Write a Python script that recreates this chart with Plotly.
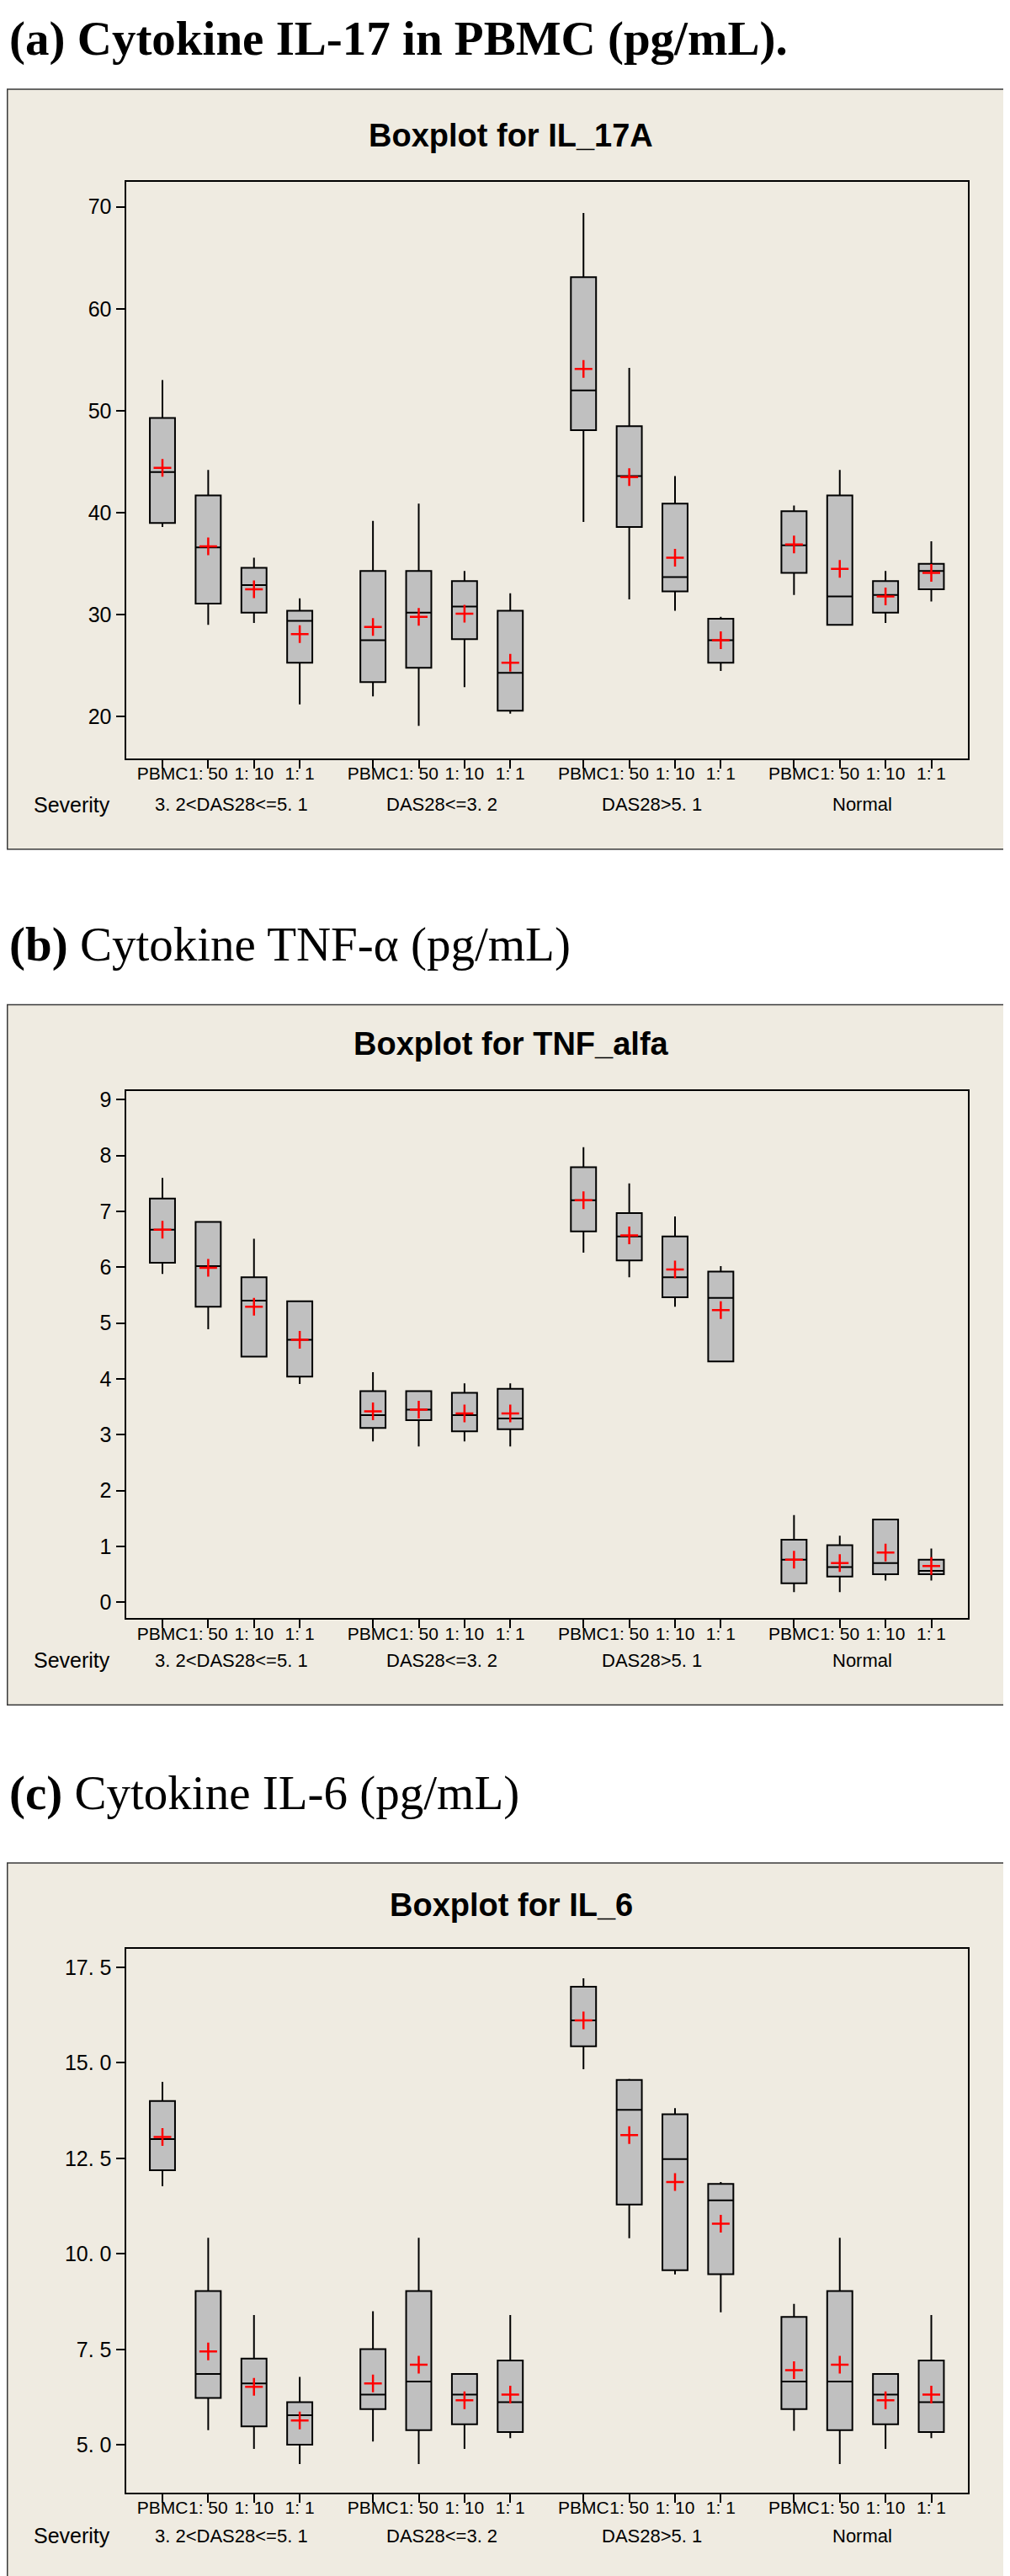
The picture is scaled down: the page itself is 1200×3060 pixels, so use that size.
import plotly.graph_objects as go

W, H = 1200, 3060

# ---------------- data ----------------
severity_groups = ["3. 2&lt;DAS28&lt;=5. 1", "DAS28&lt;=3. 2", "DAS28&gt;5. 1", "Normal"]
dilutions = ["PBMC", "1: 50", "1: 10", "1: 1"]

# (a) IL_17A
il17_low = [38.6, 29.0, 29.2, 21.2, 22.0, 19.1, 22.9, 20.3, 39.1, 31.5, 30.4, 24.5, 31.95, 29.0, 29.2, 31.3]
il17_q1 = [39.0, 31.1, 30.2, 25.3, 23.4, 24.8, 27.6, 20.6, 48.1, 38.6, 32.3, 25.3, 34.1, 29.0, 30.2, 32.5]
il17_med = [44.0, 36.6, 32.9, 29.4, 27.5, 30.2, 30.8, 24.3, 52.0, 43.6, 33.7, 27.5, 36.8, 31.8, 31.95, 34.3]
il17_q3 = [49.3, 41.7, 34.6, 30.4, 34.3, 34.3, 33.3, 30.4, 63.1, 48.5, 40.9, 29.6, 40.15, 41.7, 33.3, 35.0]
il17_high = [53.0, 44.2, 35.6, 31.6, 39.2, 40.9, 34.3, 32.1, 69.4, 54.2, 43.6, 29.8, 40.7, 44.2, 34.3, 37.2]
il17_mean = [44.4, 36.7, 32.5, 28.1, 28.8, 29.8, 30.1, 25.3, 54.1, 43.5, 35.6, 27.5, 36.9, 34.5, 31.8, 34.1]

# (b) TNF_alfa
tnf_low = [5.88, 4.89, 4.40, 3.91, 2.88, 2.79, 2.88, 2.79, 6.26, 5.82, 5.29, 4.31, 0.18, 0.18, 0.39, 0.39]
tnf_q1 = [6.08, 5.29, 4.40, 4.04, 3.12, 3.26, 3.06, 3.10, 6.64, 6.12, 5.46, 4.31, 0.34, 0.46, 0.50, 0.50]
tnf_med = [6.67, 6.02, 5.40, 4.70, 3.35, 3.45, 3.35, 3.29, 7.20, 6.55, 5.82, 5.45, 0.76, 0.63, 0.70, 0.56]
tnf_q3 = [7.23, 6.81, 5.82, 5.39, 3.78, 3.78, 3.75, 3.82, 7.79, 6.97, 6.55, 5.92, 1.12, 1.02, 1.48, 0.76]
tnf_high = [7.60, 6.81, 6.51, 5.39, 4.12, 3.78, 3.92, 3.92, 8.15, 7.50, 6.91, 6.02, 1.56, 1.19, 1.48, 0.96]
tnf_mean = [6.67, 5.99, 5.29, 4.70, 3.42, 3.45, 3.38, 3.38, 7.20, 6.57, 5.96, 5.23, 0.76, 0.70, 0.89, 0.65]

# (c) IL_6
il6_low = [11.77, 5.39, 4.90, 4.50, 5.09, 4.50, 4.90, 5.18, 14.83, 10.41, 9.46, 8.47, 5.37, 4.50, 4.90, 5.18]
il6_q1 = [12.19, 6.23, 5.49, 5.01, 5.94, 5.39, 5.54, 5.34, 15.43, 11.29, 9.57, 9.47, 5.94, 5.39, 5.54, 5.34]
il6_med = [13.00, 6.86, 6.61, 5.78, 6.32, 6.66, 6.32, 6.12, 16.11, 13.77, 12.48, 11.40, 6.66, 6.66, 6.32, 6.12]
il6_q3 = [14.00, 9.03, 7.26, 6.12, 7.51, 9.03, 6.86, 7.21, 16.99, 14.55, 13.65, 11.83, 8.35, 9.03, 6.86, 7.21]
il6_high = [14.50, 10.42, 8.40, 6.78, 8.50, 10.42, 6.86, 8.40, 17.21, 14.58, 13.81, 11.88, 8.69, 10.42, 6.86, 8.40]
il6_mean = [13.06, 7.45, 6.52, 5.64, 6.61, 7.10, 6.17, 6.32, 16.11, 13.11, 11.88, 10.79, 6.96, 7.10, 6.17, 6.32]

il17_ticks = [20, 30, 40, 50, 60, 70]
il17_ticktext = ["20", "30", "40", "50", "60", "70"]
tnf_ticks = [0, 1, 2, 3, 4, 5, 6, 7, 8, 9]
tnf_ticktext = ["0", "1", "2", "3", "4", "5", "6", "7", "8", "9"]
il6_ticks = [5.0, 7.5, 10.0, 12.5, 15.0, 17.5]
il6_ticktext = ["5. 0", "7. 5", "10. 0", "12. 5", "15. 0", "17. 5"]

# ---------------- layout helpers ----------------
GAP = 1.6
positions = [g * (len(dilutions) - 1 + GAP) + i for g in range(len(severity_groups)) for i in range(len(dilutions))]
group_centers = [sum(positions[g * 4:(g + 1) * 4]) / 4 for g in range(4)]


def px(p):
    return p / W


def py(p):
    return 1 - p / H


SANS = "Liberation Sans, Arial, sans-serif"
SERIF = "Liberation Serif, Times New Roman, serif"

panels = [
    dict(head="<b>(a) Cytokine IL-17 in PBMC (pg/mL).</b>", head_y=34,
         box=(94, 998), plot=(204, 890), title="Boxplot for IL_17A", title_y=149, sev_y=945,
         yrange=[15.92, 72.47], tv=il17_ticks, tt=il17_ticktext,
         stats=(il17_low, il17_q1, il17_med, il17_q3, il17_high, il17_mean)),
    dict(head="<b>(b)</b> Cytokine TNF-α (pg/mL)", head_y=1111,
         box=(1183, 2016), plot=(1286, 1913), title="Boxplot for TNF_alfa", title_y=1230, sev_y=1963,
         yrange=[-0.29, 9.15], tv=tnf_ticks, tt=tnf_ticktext,
         stats=(tnf_low, tnf_q1, tnf_med, tnf_q3, tnf_high, tnf_mean)),
    dict(head="<b>(c)</b> Cytokine IL-6 (pg/mL)", head_y=2121,
         box=(2204, 3057), plot=(2306, 2953), title="Boxplot for IL_6", title_y=2254, sev_y=3004,
         yrange=[3.75, 17.98], tv=il6_ticks, tt=il6_ticktext,
         stats=(il6_low, il6_q1, il6_med, il6_q3, il6_high, il6_mean)),
]

fig = go.Figure()
layout = dict(width=W, height=H, margin=dict(l=0, r=0, t=0, b=0),
              paper_bgcolor="white", plot_bgcolor="white", showlegend=False,
              shapes=[], annotations=[])

for k, p in enumerate(panels):
    n = "" if k == 0 else str(k + 1)
    xa, ya = "x" + n, "y" + n
    lo, q1, med, q3, hi, mean = p["stats"]
    fig.add_trace(go.Box(
        x=positions, q1=q1, median=med, q3=q3, lowerfence=lo, upperfence=hi,
        orientation="v", width=0.55, whiskerwidth=0, boxpoints=False,
        fillcolor="#C0C0C0", line=dict(color="black", width=2),
        xaxis=xa, yaxis=ya, hoverinfo="skip"))
    fig.add_trace(go.Scatter(
        x=positions, y=mean, mode="markers", xaxis=xa, yaxis=ya,
        marker=dict(symbol="cross-thin", size=15, color="red", line=dict(color="red", width=2.5)),
        hoverinfo="skip"))

    layout["xaxis" + n] = dict(
        domain=[px(141.5), px(1142)], range=[-0.80, 17.6], anchor=ya,
        tickmode="array", tickvals=positions, ticktext=dilutions * 4, tickangle=0,
        ticks="outside", ticklen=10, tickwidth=1.5, tickcolor="black",
        ticklabelstandoff=-12,
        showline=True, linecolor="black", linewidth=2, mirror=True,
        showgrid=False, zeroline=False,
        tickfont=dict(family=SANS, size=21, color="black"))
    layout["yaxis" + n] = dict(
        domain=[py(p["plot"][1]), py(p["plot"][0])], range=p["yrange"], anchor=xa,
        tickmode="array", tickvals=p["tv"], ticktext=p["tt"],
        ticks="outside", ticklen=10, tickwidth=1.5, tickcolor="black",
        showline=True, linecolor="black", linewidth=2, mirror=True,
        showgrid=False, zeroline=False,
        tickfont=dict(family=SANS, size=25, color="black"))

    top, bottom = p["box"]
    layout["shapes"].append(dict(
        type="rect", xref="paper", yref="paper", layer="below",
        x0=px(0.75), x1=px(1197), y0=py(bottom), y1=py(top),
        fillcolor="#EFEBE1", line=dict(color="#3A3A3A", width=1.5)))

    layout["annotations"].append(dict(
        text=p["head"], xref="paper", yref="paper", x=px(1), y=py(p["head_y"]),
        xanchor="left", yanchor="middle", showarrow=False,
        font=dict(family=SERIF, size=57, color="black")))
    layout["annotations"].append(dict(
        text="<b>" + p["title"] + "</b>", xref="paper", yref="paper", x=px(599), y=py(p["title_y"]),
        xanchor="center", yanchor="middle", showarrow=False,
        font=dict(family=SANS, size=38, color="black")))
    layout["annotations"].append(dict(
        text="Severity", xref="paper", yref="paper", x=px(30), y=py(p["sev_y"]),
        xanchor="left", yanchor="middle", showarrow=False,
        font=dict(family=SANS, size=25, color="black")))
    for gname, gc in zip(severity_groups, group_centers):
        layout["annotations"].append(dict(
            text=gname, xref=xa, yref="paper", x=gc, y=py(p["sev_y"]),
            xanchor="center", yanchor="middle", showarrow=False,
            font=dict(family=SANS, size=22, color="black")))

fig.update_layout(**layout)
fig.write_html("out.html")
